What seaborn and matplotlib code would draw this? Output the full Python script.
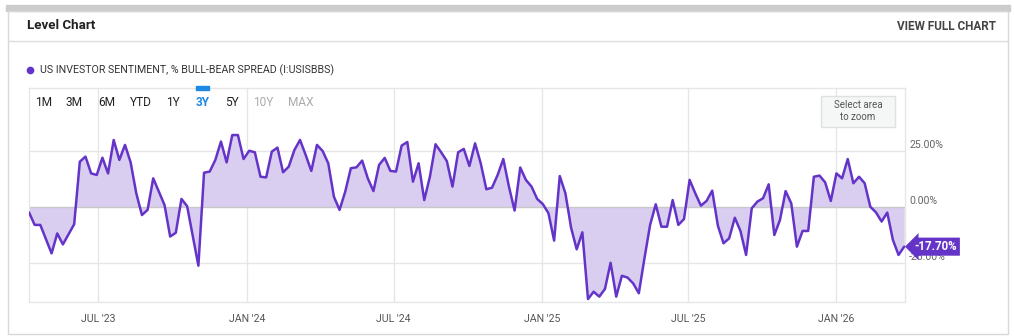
import matplotlib
matplotlib.use("Agg")
import numpy as np
import pandas as pd
import matplotlib.pyplot as plt
from matplotlib.patches import Rectangle
from matplotlib.lines import Line2D
import seaborn as sns

# Weekly AAII bull-bear spread, percent
dates = pd.date_range(end="2026-03-26", periods=156, freq="W-THU")
spread = [
    -2.4, -8.0, -8.0, -14.3, -20.7, -11.8, -16.7, -12.2, -7.7, 20.2, 22.5, 15.0,
    14.3, 22.0, 15.0, 29.9, 21.0, 27.7, 19.9, 6.1, -3.6, -1.3, 12.8,
    6.8, 0.9, -13.2, -11.5, 3.6, 0.4, -12.8, -26.2, 15.3, 15.8, 21.0, 29.2,
    19.9, 32.1, 32.1, 21.4, 25.1, 24.4, 13.5, 13.2, 24.7, 26.5,
    15.5, 18.0, 25.4, 29.9, 23.2, 16.1, 27.7, 25.0, 19.5, 4.6, -1.3, 6.8,
    17.3, 17.7, 20.7, 12.8, 7.1, 18.8, 21.9, 16.1, 15.8, 27.4,
    29.0, 11.3, 19.5, 3.1, 13.5, 28.0, 24.4, 20.5, 9.1, 24.4, 25.9, 18.3,
    28.4, 19.5, 7.9, 8.6, 14.3, 21.4, 9.1, -1.6, 17.6, 12.1, 9.1,
    3.6, 1.3, -2.8, -15.0, 13.8, 6.1, -9.2, -18.9, -11.3, -41.1, -37.8, -40.0,
    -36.6, -24.9, -40.0, -30.7, -31.5, -34.1, -38.5, -22.9, -8.0, 1.2,
    -8.8, -8.8, 3.1, -8.0, -5.4, 12.1, 6.1, 0.6, 2.7, 7.3, -8.3, -16.2,
    -14.0, -4.8, -10.7, -21.4, -0.6, 2.4, 3.9, 10.1, -12.5, -5.8,
    7.1, 1.6, -17.7, -10.7, -10.7, 13.5, 14.0, 11.0, 2.7, 15.0, 12.8, 21.4,
    10.6, 13.5, 10.6, 0.1, -2.4, -6.5, -2.5, -14.7, -21.4, -17.7,
]
tick_dates = ["2023-07-01", "2024-01-01", "2024-07-01", "2025-01-01", "2025-07-01", "2026-01-01"]
tick_labels = ["JUL '23", "JAN '24", "JUL '24", "JAN '25", "JUL '25", "JAN '26"]
y_ticks = [25, 0, -25]
y_labels = ["25.00%", "0.00%", "-25.00%"]
range_buttons = ["1M", "3M", "6M", "YTD", "1Y", "3Y", "5Y", "10Y", "MAX"]
series_name = "US INVESTOR SENTIMENT, % BULL-BEAR SPREAD (I:USISBBS)"

df = pd.DataFrame({"date": dates, "spread": spread})

sns.set_theme(style="white")
plt.rcParams["font.family"] = ["Liberation Sans Narrow", "Roboto", "DejaVu Sans"]

W, H = 1014, 336
fig = plt.figure(figsize=(W / 100, H / 100), dpi=100)
fig.patch.set_facecolor("white")


def fx(x):
    return x / W


def fy(y):
    return 1 - y / H


PURPLE = "#6434c8"
FILL = "#d9cef0"
GRID = "#e6e6e6"

# panel frame and header
fig.patches.append(Rectangle((fx(6), fy(11)), (1010 - 6) / W, 6 / H,
                             transform=fig.transFigure, color="#cccccc", zorder=0))
fig.patches.append(Rectangle((fx(8), fy(334)), (1008 - 8) / W, (334 - 11) / H,
                             transform=fig.transFigure, fill=False, ec="#d8d8d8", lw=1, zorder=0))
fig.add_artist(Line2D([fx(8), fx(1008)], [fy(41), fy(41)], color="#dddddd", lw=1))
fig.text(fx(27), fy(25.5), "Level Chart", fontsize=9.6, fontweight="bold", color="#222222", va="center")
fig.text(fx(996), fy(27), "VIEW FULL CHART", fontsize=8.5, fontweight="bold", color="#444444",
         ha="right", va="center")

# legend entry
fig.add_artist(Line2D([fx(30)], [fy(70)], marker="o", ms=4.5, color=PURPLE, lw=0))
fig.text(fx(40), fy(70), series_name, fontsize=7.7, color="#333333", va="center")

# plot area
ax = fig.add_axes([fx(28.6), fy(302), (905 - 28.6) / W, (302 - 88) / H])
ax.set_facecolor("white")
ax.fill_between(df["date"], df["spread"], 0, color=FILL, lw=0, zorder=1)
sns.lineplot(data=df, x="date", y="spread", color=PURPLE, lw=1.8, ax=ax, zorder=3)
for v in y_ticks:
    ax.axhline(v, color="#c8c8c8" if v == 0 else GRID, lw=1, zorder=2 if v == 0 else 0)

ax.set_ylim(-42.4, 53.1)
ax.set_xlim(dates[0] - pd.Timedelta(days=0.5), dates[-1] + pd.Timedelta(days=1))
ax.set_xticks(pd.to_datetime(tick_dates))
ax.set_xticklabels(tick_labels)
ax.set_yticks([])
ax.xaxis.grid(True, color=GRID, lw=1, zorder=0)
ax.set_axisbelow(True)
ax.tick_params(axis="x", length=0, pad=9, labelsize=7.6, labelcolor="#555555")
ax.set_xlabel("")
ax.set_ylabel("")
for s in ax.spines.values():
    s.set_color(GRID)
    s.set_linewidth(1)

# value labels on the right of the plot
for v, lab in zip(y_ticks, y_labels):
    ax.annotate(lab, xy=(1, v), xycoords=("axes fraction", "data"), xytext=(3, 4.5),
                textcoords="offset points", va="center", ha="left", fontsize=7.6,
                color="#666666", annotation_clip=False, zorder=4)

# current value flag
last = spread[-1]
ax.annotate(f"{last:.2f}%", xy=(1, last), xycoords=("axes fraction", "data"), xytext=(7, 0),
            textcoords="offset points", va="center", ha="left", fontsize=8.3, fontweight="bold",
            color="white", annotation_clip=False, zorder=10,
            bbox=dict(boxstyle="larrow,pad=0.22", fc=PURPLE, ec="none"))

# range selector
btn_x = [43.5, 74.5, 106.5, 140.5, 173, 202.5, 232, 263, 300.5]
for lab, x in zip(range_buttons, btn_x):
    if lab == "3Y":
        col, wt = "#1e88e5", "bold"
    elif lab in ("10Y", "MAX"):
        col, wt = "#aaaaaa", "normal"
    else:
        col, wt = "#222222", "normal"
    fig.text(fx(x), fy(102), lab, fontsize=8.6, color=col, fontweight=wt, ha="center", va="center")
fig.patches.append(Rectangle((fx(196), fy(89.5)), 13 / W, 3.5 / H,
                             transform=fig.transFigure, color="#1e88e5", zorder=2))

# zoom hint box
fig.patches.append(Rectangle((fx(821), fy(127)), (895 - 821) / W, (127 - 96) / H,
                             transform=fig.transFigure, fc="#f5f7f7", ec="#e0e0e0", lw=1, zorder=2))
fig.text(fx(858), fy(105), "Select area", fontsize=7, color="#555555", ha="center", va="center")
fig.text(fx(858), fy(117), "to zoom", fontsize=7, color="#555555", ha="center", va="center")

fig.savefig("out.png", dpi=100)
